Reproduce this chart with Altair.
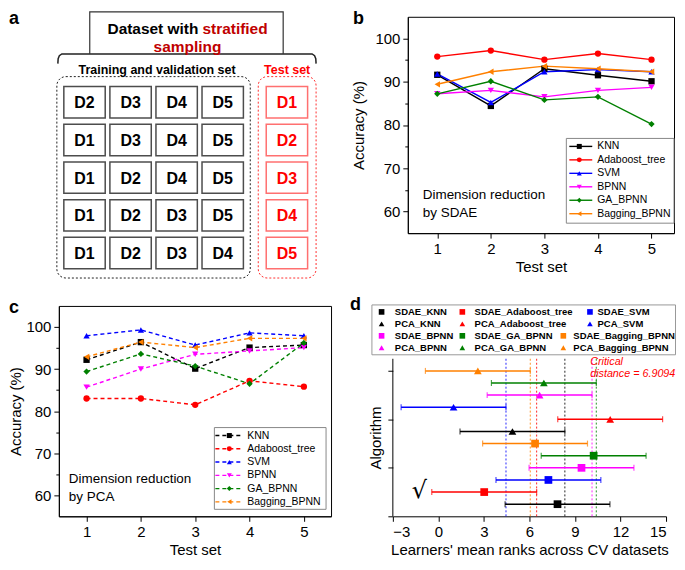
import altair as alt
import pandas as pd

FONT = "Liberation Sans"

# ---------------- data ----------------
train_sets = [["D2", "D3", "D4", "D5"],
              ["D1", "D3", "D4", "D5"],
              ["D1", "D2", "D4", "D5"],
              ["D1", "D2", "D3", "D5"],
              ["D1", "D2", "D3", "D4"]]
test_sets = ["D1", "D2", "D3", "D4", "D5"]

test_ids = [1, 2, 3, 4, 5]
learners = ["KNN", "Adaboost_tree", "SVM", "BPNN", "GA_BPNN", "Bagging_BPNN"]
learner_colors = ["#000000", "#ff0000", "#0000ff", "#ff00ff", "#008000", "#ff8000"]
learner_shapes = ["square", "circle", "triangle-up", "triangle-down", "diamond", "triangle-left"]
methods = ["SDAE", "PCA"]
method_shapes = ["square", "triangle-up"]

sdae_knn = [91.6, 84.4, 93.0, 91.5, 90.1]
sdae_adaboost = [95.8, 97.2, 95.1, 96.5, 95.1]
sdae_svm = [91.8, 85.2, 92.3, 92.8, 92.3]
sdae_bpnn = [87.2, 88.0, 86.5, 88.0, 88.7]
sdae_ga_bpnn = [87.2, 90.1, 85.8, 86.5, 80.2]
sdae_bagging = [89.4, 92.3, 93.6, 93.0, 92.3]

pca_knn = [92.2, 96.4, 90.1, 95.1, 95.7]
pca_adaboost = [83.0, 83.0, 81.5, 87.2, 85.8]
pca_svm = [97.9, 99.3, 95.7, 98.6, 97.9]
pca_bpnn = [85.7, 90.0, 93.5, 94.3, 95.1]
pca_ga_bpnn = [89.4, 93.6, 90.7, 86.5, 96.2]
pca_bagging = [92.9, 96.4, 95.1, 97.3, 97.3]

rank_methods = ["SDAE"] * 6 + ["PCA"] * 6
rank_learners = learners * 2
rank_means = [7.85, 3.02, 7.25, 9.43, 10.23, 6.37, 4.88, 11.32, 1.0, 6.67, 6.95, 2.6]
critical_distance = 6.9094

# ---------------- common ----------------
color_scale = alt.Scale(domain=learners, range=learner_colors)
# one shape scale for the whole figure (shape scales are shared across concatenated panels)
shape_scale = alt.Scale(domain=learners + methods, range=learner_shapes + method_shapes)
one = pd.DataFrame({"k": [0]})


def panel_label(letter, x, y):
    return alt.Chart(one).mark_text(font=FONT, fontSize=18, fontWeight="bold", align="left",
                                    baseline="top", color="black").encode(
        x=alt.value(x), y=alt.value(y), text=alt.value(letter))


# ---------------- panel a ----------------
ax = alt.Scale(domain=[58, 346], nice=False, zero=False)
ay = alt.Scale(domain=[15, 232], nice=False, zero=False, reverse=True)

train_rows = []
for r, row in enumerate(train_sets):
    for c, lab in enumerate(row):
        x0 = 63 + c * 46.2
        y0 = 85 + r * 37.8
        train_rows.append({"label": lab, "x0": x0, "x1": x0 + 41.5, "y0": y0, "y1": y0 + 31.5})
df_train = pd.DataFrame(train_rows)
test_rows = []
for r, lab in enumerate(test_sets):
    y0 = 85 + r * 37.8
    test_rows.append({"label": lab, "x0": 266, "x1": 307.5, "y0": y0, "y1": y0 + 31.5})
df_test = pd.DataFrame(test_rows)
for d in (df_train, df_test):
    d["xc"] = (d["x0"] + d["x1"]) / 2
    d["yc"] = (d["y0"] + d["y1"]) / 2 + 1


def rect_layer(df, **kw):
    return alt.Chart(df).mark_rect(**kw).encode(
        x=alt.X("x0:Q", scale=ax, axis=None), x2="x1:Q",
        y=alt.Y("y0:Q", scale=ay, axis=None), y2="y1:Q")


def text_layer(df, **kw):
    return alt.Chart(df).mark_text(font=FONT, **kw).encode(
        x=alt.X("x:Q", scale=ax, axis=None), y=alt.Y("y:Q", scale=ay, axis=None), text="t:N")


a_train_box = rect_layer(pd.DataFrame({"x0": [56], "x1": [250], "y0": [75], "y1": [277]}),
                         fill="white", fillOpacity=0, stroke="#222222", strokeWidth=1,
                         strokeDash=[2, 2], cornerRadius=9)
a_test_box = rect_layer(pd.DataFrame({"x0": [258], "x1": [316], "y0": [75], "y1": [277]}),
                        fill="white", fillOpacity=0, stroke="#ff3030", strokeWidth=1,
                        strokeDash=[2, 2], cornerRadius=9)
a_train_cells = rect_layer(df_train, fill="white", stroke="#4d4d4d", strokeWidth=1.5)
a_test_cells = rect_layer(df_test, fill="white", stroke="#ff7070", strokeWidth=1.5)
a_train_text = alt.Chart(df_train).mark_text(font=FONT, fontSize=16, fontWeight="bold",
                                             baseline="middle", color="black").encode(
    x=alt.X("xc:Q", scale=ax, axis=None), y=alt.Y("yc:Q", scale=ay, axis=None), text="label:N")
a_test_text = alt.Chart(df_test).mark_text(font=FONT, fontSize=16, fontWeight="bold",
                                           baseline="middle", color="#ff0000").encode(
    x=alt.X("xc:Q", scale=ax, axis=None), y=alt.Y("yc:Q", scale=ay, axis=None), text="label:N")

df_frame = pd.DataFrame({"x": [89, 89, 283, 283], "y": [52, 10, 10, 52], "o": [0, 1, 2, 3]})
a_frame = alt.Chart(df_frame).mark_line(color="#333333", strokeWidth=1.2).encode(
    x=alt.X("x:Q", scale=ax, axis=None), y=alt.Y("y:Q", scale=ay, axis=None), order="o:Q")
df_brace = pd.DataFrame({"x": [57, 57.3, 58.5, 61, 312, 314.5, 315.7, 316],
                         "y": [62, 57, 54, 52.3, 52.3, 54, 57, 62],
                         "o": list(range(8))})
a_brace = alt.Chart(df_brace).mark_line(color="#222222", strokeWidth=1.5).encode(
    x=alt.X("x:Q", scale=ax, axis=None), y=alt.Y("y:Q", scale=ay, axis=None), order="o:Q")

a_t1 = text_layer(pd.DataFrame({"t": ["Dataset with"], "x": [198], "y": [27]}),
                  fontSize=15.5, fontWeight="bold", align="right", color="black")
a_t2 = text_layer(pd.DataFrame({"t": ["stratified"], "x": [202], "y": [27]}),
                  fontSize=15.5, fontWeight="bold", align="left", color="#c00000")
a_t3 = text_layer(pd.DataFrame({"t": ["sampling"], "x": [187], "y": [45]}),
                  fontSize=15.5, fontWeight="bold", align="center", color="#c00000")
a_t4 = text_layer(pd.DataFrame({"t": ["Training and validation set"], "x": [156.5], "y": [68]}),
                  fontSize=12.5, fontWeight="bold", align="center", color="black")
a_t5 = text_layer(pd.DataFrame({"t": ["Test set"], "x": [287], "y": [68]}),
                  fontSize=12.5, fontWeight="bold", align="center", color="#ff0000")

panel_a = alt.layer(a_train_box, a_test_box, a_train_cells, a_test_cells, a_train_text, a_test_text,
                    a_frame, a_brace, a_t1, a_t2, a_t3, a_t4, a_t5,
                    panel_label("a", -50, -7)).properties(
    width=288, height=217, view=alt.ViewBackground(stroke="transparent"))


# ---------------- panels b and c ----------------
def long_df(vals):
    rows = []
    for name, v in zip(learners, vals):
        for t, acc in zip(test_ids, v):
            rows.append({"learner": name, "test": t, "acc": acc})
    return pd.DataFrame(rows)


def accuracy_panel(vals, xdom, dash, box, leg_x, leg_y0, leg_step, note_x, note_y, note_text,
                   letter, letter_x, title_x, width, height):
    df = long_df(vals)
    xs = alt.Scale(domain=xdom, nice=False, zero=False)
    ys = alt.Scale(domain=[55, 105], nice=False, zero=False)
    xaxis = alt.Axis(values=test_ids, title="Test set", tickSize=5, labelPadding=3,
                     titlePadding=3, format="d")
    yaxis = alt.Axis(values=list(range(60, 101, 5)),
                     labelExpr="datum.value % 10 === 0 ? datum.label : ''",
                     tickSize={"condition": {"test": "datum.value % 10 === 0", "value": 5}, "value": 3},
                     labelPadding=3, title="Accuracy (%)", titleX=title_x)
    line_kw = {"strokeWidth": 1.4}
    if dash:
        line_kw["strokeDash"] = dash
    lines = alt.Chart(df).mark_line(**line_kw).encode(
        x=alt.X("test:Q", scale=xs, axis=xaxis),
        y=alt.Y("acc:Q", scale=ys, axis=yaxis),
        color=alt.Color("learner:N", scale=color_scale, legend=None),
        detail="learner:N")
    pts = alt.Chart(df).mark_point(filled=True, size=40, opacity=1).encode(
        x=alt.X("test:Q", scale=xs, axis=xaxis),
        y=alt.Y("acc:Q", scale=ys, axis=yaxis),
        color=alt.Color("learner:N", scale=color_scale, legend=None),
        shape=alt.Shape("learner:N", scale=shape_scale, legend=None))

    leg = pd.DataFrame({"learner": learners})
    leg["ly"] = [leg_y0 + i * leg_step for i in range(len(learners))]
    leg["lx1"] = leg_x[0]
    leg["lx2"] = leg_x[1]
    leg["lxm"] = leg_x[2]
    leg["lxt"] = leg_x[3]
    leg_box = alt.Chart(one).mark_rect(fill="white", stroke="#888888", strokeWidth=1).encode(
        x=alt.value(box[0]), x2=alt.value(box[1]), y=alt.value(box[2]), y2=alt.value(box[3]))
    leg_lines = alt.Chart(leg).mark_rule(**line_kw).encode(
        x=alt.X("lx1:Q", scale=None, axis=None), x2="lx2:Q",
        y=alt.Y("ly:Q", scale=None, axis=None),
        color=alt.Color("learner:N", scale=color_scale, legend=None))
    leg_pts = alt.Chart(leg).mark_point(filled=True, size=25, opacity=1).encode(
        x=alt.X("lxm:Q", scale=None, axis=None), y=alt.Y("ly:Q", scale=None, axis=None),
        color=alt.Color("learner:N", scale=color_scale, legend=None),
        shape=alt.Shape("learner:N", scale=shape_scale, legend=None))
    leg_text = alt.Chart(leg).mark_text(font=FONT, fontSize=10.5, align="left", baseline="middle",
                                        color="black").encode(
        x=alt.X("lxt:Q", scale=None, axis=None), y=alt.Y("ly:Q", scale=None, axis=None),
        text="learner:N")
    note_df = pd.DataFrame({"t": note_text, "ny": note_y})
    note = alt.Chart(note_df).mark_text(font=FONT, fontSize=13.5, align="left", baseline="middle",
                                        color="black").encode(
        x=alt.value(note_x), y=alt.Y("ny:Q", scale=None, axis=None), text="t:N")
    return alt.layer(lines, pts, leg_box, leg_lines, leg_pts, leg_text, note,
                     panel_label(letter, letter_x, -7)).properties(width=width, height=height)


panel_b = accuracy_panel(
    [sdae_knn, sdae_adaboost, sdae_svm, sdae_bpnn, sdae_ga_bpnn, sdae_bagging],
    [0.45, 5.42], None, (159, 267, 122, 207), (162, 185, 172, 190), 130, 13.5,
    15, [179, 197], ["Dimension reduction", "by SDAE"], "b", -55, -41, 267, 217)

panel_c = accuracy_panel(
    [pca_knn, pca_adaboost, pca_svm, pca_bpnn, pca_ga_bpnn, pca_bagging],
    [0.49, 5.5], [4, 3], (156, 268, 122, 204), (157, 185, 171, 189), 130, 13.3,
    10, [174, 192], ["Dimension reduction", "by PCA"], "c", -50, -35, 273, 211)

# ---------------- panel d ----------------
half = critical_distance / 2
df_rank = pd.DataFrame({"method": rank_methods, "learner": rank_learners, "mean": rank_means})
df_rank["name"] = df_rank["method"] + "_" + df_rank["learner"]
df_rank["row"] = list(range(1, len(df_rank) + 1))
df_rank["lo"] = df_rank["mean"] - half
df_rank["hi"] = df_rank["mean"] + half

best = df_rank.groupby("learner", sort=False)["mean"].min()
df_vl = pd.DataFrame({"learner": list(best.index), "v": list(best.values + half)})

D_H = 211
dxs = alt.Scale(domain=[-3, 15], nice=False, zero=False)
dys = alt.Scale(domain=[0, 17.36], nice=False, zero=False)
dxaxis = alt.Axis(values=[-3 + 1.5 * i for i in range(13)],
                  labelExpr="datum.value % 3 === 0 ? datum.label : ''",
                  tickSize={"condition": {"test": "datum.value % 3 === 0", "value": 5}, "value": 3},
                  labelPadding=3, titlePadding=3,
                  title="Learners' mean ranks across CV datasets")
dyaxis = alt.Axis(values=list(range(14)), labels=False, domain=False, tickSize=5,
                  title="Algorithm", titleX=-9, titleY=D_H - 6.5 * D_H / 17.36)

d_vlines = alt.Chart(df_vl).mark_rule(strokeDash=[2, 2], strokeWidth=1, opacity=0.85).encode(
    x=alt.X("v:Q", scale=dxs, axis=dxaxis),
    y=alt.datum(0), y2=alt.datum(13),
    color=alt.Color("learner:N", scale=color_scale, legend=None))
d_yline = alt.Chart(one).mark_rule(color="black", strokeWidth=1).encode(
    x=alt.datum(-3), y=alt.datum(0), y2=alt.datum(13))
d_bars = alt.Chart(df_rank).mark_rule(strokeWidth=1.5).encode(
    x=alt.X("lo:Q", scale=dxs, axis=dxaxis), x2="hi:Q",
    y=alt.Y("row:Q", scale=dys, axis=dyaxis),
    color=alt.Color("learner:N", scale=color_scale, legend=None))
d_cap_lo = alt.Chart(df_rank).mark_tick(orient="vertical", size=6, thickness=1.2).encode(
    x=alt.X("lo:Q", scale=dxs, axis=dxaxis), y=alt.Y("row:Q", scale=dys, axis=dyaxis),
    color=alt.Color("learner:N", scale=color_scale, legend=None))
d_cap_hi = alt.Chart(df_rank).mark_tick(orient="vertical", size=6, thickness=1.2).encode(
    x=alt.X("hi:Q", scale=dxs, axis=dxaxis), y=alt.Y("row:Q", scale=dys, axis=dyaxis),
    color=alt.Color("learner:N", scale=color_scale, legend=None))
d_pts = alt.Chart(df_rank).mark_point(filled=True, size=60, opacity=1).encode(
    x=alt.X("mean:Q", scale=dxs, axis=dxaxis), y=alt.Y("row:Q", scale=dys, axis=dyaxis),
    color=alt.Color("learner:N", scale=color_scale, legend=None),
    shape=alt.Shape("method:N", scale=shape_scale, legend=None))

df_cd = pd.DataFrame({"t": ["Critical", "distance = 6.9094"], "x": [10.0, 10.0], "y": [12.76, 11.73]})
d_cd = alt.Chart(df_cd).mark_text(font=FONT, fontSize=10.8, fontStyle="italic", color="#ff0000",
                                  align="left", baseline="middle").encode(
    x=alt.X("x:Q", scale=dxs, axis=dxaxis), y=alt.Y("y:Q", scale=dys, axis=dyaxis), text="t:N")
d_check = alt.Chart(one).mark_text(font="DejaVu Sans", fontSize=24, color="black",
                                   baseline="middle", align="center").encode(
    x=alt.datum(-1.25), y=alt.datum(2.1), text=alt.value("\u221a"))

# legend of panel d (row-major order as in the figure)
leg_rows = []
sym_x = [[-11.3, 69.7, 197.7], [-11.3, 69.7, 197.7], [-11.3, 69.7, 171], [-11.3, 69.7, 171]]
txt_x = [[2, 82, 205.3], [2, 82, 205.3], [2, 82, 181], [2, 82, 181]]
for r in range(4):
    for k in range(3):
        lrn = learners[(r // 2) * 3 + k]
        m = "SDAE" if r % 2 == 0 else "PCA"
        leg_rows.append({"learner": lrn, "method": m, "name": m + "_" + lrn,
                         "sx": sym_x[r][k], "tx": txt_x[r][k], "ly": 6 + 12 * r})
df_dleg = pd.DataFrame(leg_rows)
d_leg_box = alt.Chart(one).mark_rect(fill="white", stroke="#999999", strokeWidth=1).encode(
    x=alt.value(-21), x2=alt.value(283.5), y=alt.value(-1), y2=alt.value(49))
d_leg_pts = alt.Chart(df_dleg).mark_point(filled=True, size=32, opacity=1).encode(
    x=alt.X("sx:Q", scale=None, axis=None), y=alt.Y("ly:Q", scale=None, axis=None),
    color=alt.Color("learner:N", scale=color_scale, legend=None),
    shape=alt.Shape("method:N", scale=shape_scale, legend=None))
d_leg_txt = alt.Chart(df_dleg).mark_text(font=FONT, fontSize=9.5, fontWeight="bold", align="left",
                                         baseline="middle", color="black").encode(
    x=alt.X("tx:Q", scale=None, axis=None), y=alt.Y("ly:Q", scale=None, axis=None),
    text="name:N")

panel_d = alt.layer(d_vlines, d_yline, d_bars, d_cap_lo, d_cap_hi, d_pts, d_cd, d_check,
                    d_leg_box, d_leg_pts, d_leg_txt, panel_label("d", -43, -10)).properties(
    width=274, height=D_H, view=alt.ViewBackground(stroke="transparent"))

# ---------------- assemble ----------------
row1 = alt.hconcat(panel_a, panel_b, spacing=62, bounds="flush")
row2 = alt.hconcat(panel_c, panel_d, spacing=62, bounds="flush")
chart = alt.vconcat(row1, row2, spacing=16).properties(
    padding=0, background="white"
).configure_view(
    stroke="black", strokeWidth=1
).configure_axis(
    domainColor="black", tickColor="black", labelColor="black", titleColor="black",
    labelFont=FONT, titleFont=FONT, labelFontSize=15, titleFontSize=15,
    titleFontWeight="normal", grid=False, domainWidth=1, tickWidth=1
).configure_text(font=FONT)

chart.save("out.html", embed_options={"renderer": "svg", "actions": False})
